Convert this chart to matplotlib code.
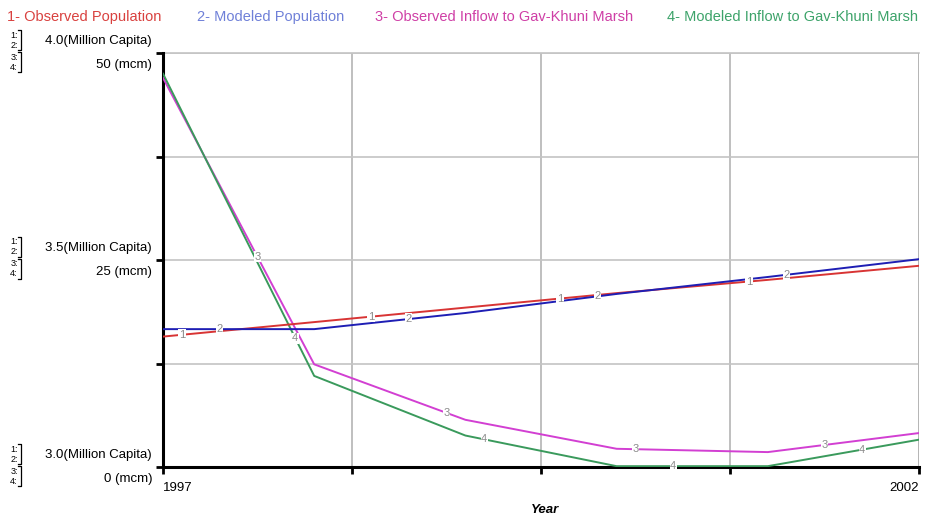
import numpy as np
import matplotlib.pyplot as plt

plt.rcParams['font.family'] = ['Liberation Sans', 'DejaVu Sans']

# Data
years = [1997, 1998, 1999, 2000, 2001, 2002]
obs_pop = [3.315, 3.350, 3.385, 3.420, 3.452, 3.486]      # million capita
mod_pop = [3.333, 3.333, 3.372, 3.418, 3.459, 3.502]      # million capita
obs_inflow = [47.0, 12.4, 5.7, 2.2, 1.8, 4.1]             # mcm
mod_inflow = [47.5, 11.0, 3.8, 0.1, 0.1, 3.3]             # mcm

names = ['1- Observed Population', '2- Modeled Population',
         '3- Observed Inflow to Gav-Khuni Marsh', '4- Modeled Inflow to Gav-Khuni Marsh']
title_colors = ['#d9413f', '#6f80d8', '#cf3fa6', '#3da36a']
line_colors = ['#d83434', '#1e1eb4', '#d23fd2', '#3a9a5c']

pop_ticks = [3.0, 3.5, 4.0]
inflow_ticks = [0, 25, 50]

W, H = 930, 518
fig = plt.figure(figsize=(W / 100, H / 100), dpi=100)
L, R, T, B = 163, 919, 53, 467
ax = fig.add_axes([L / W, 1 - B / H, (R - L) / W, (B - T) / H])
ax2 = ax.twinx()


def px(x, y):
    return x / W, 1 - y / H


# grid
xgrid = np.linspace(1997, 2002, 5)
ygrid = np.linspace(0, 50, 5)
for xg in xgrid[1:]:
    ax.axvline(xg, color='#b4b4b4', lw=1.2, zorder=0)
for yg in ygrid[1:]:
    ax.axhline(yg, color='#c4c4c4', lw=1.2, zorder=0)

ax.set_xlim(1997, 2002)
ax.set_ylim(0, 50)
ax2.set_ylim(3.0, 4.0)

series = [(ax2, obs_pop), (ax2, mod_pop), (ax, obs_inflow), (ax, mod_inflow)]
for i, (a, vals) in enumerate(series):
    a.plot(years, vals, color=line_colors[i], lw=1.4, zorder=3)
    # number labels along each line
    for n in range(4):
        t = 1997.125 + 0.25 * i + 1.25 * n
        v = np.interp(t, years, vals)
        a.text(t, v, str(i + 1), color='#8a8a8a', fontsize=8, ha='center', va='center',
               zorder=4, bbox=dict(boxstyle='square,pad=0.05', fc='white', ec='none'))

for s in ['top', 'right']:
    ax.spines[s].set_visible(False)
    ax2.spines[s].set_visible(False)
ax2.spines['left'].set_visible(False)
ax2.spines['bottom'].set_visible(False)
ax.spines['left'].set_linewidth(2.2)
ax.spines['bottom'].set_linewidth(2.2)
ax.set_xticks(xgrid)
ax.set_yticks(ygrid)
ax.tick_params(axis='both', direction='out', length=5, width=2, labelleft=False,
               labelbottom=False, color='black')
ax2.set_yticks([])
# top border and right border
ax.plot([1997, 2002], [50, 50], color='#c4c4c4', lw=1.2, zorder=0, clip_on=False)
ax.axvline(2002, color='#b4b4b4', lw=1.2, zorder=0)

# series titles
title_x = [7, 197, 375, 667]
for i in range(4):
    fig.text(*px(title_x[i], 17), names[i], color=title_colors[i], fontsize=10.5,
             ha='left', va='center')

# stacked axis labels
for pv, iv in zip(pop_ticks, inflow_ticks):
    yv = B - (iv / 50) * (B - T)
    fig.text(*px(152, yv - 12), f'{pv:.1f}(Million Capita)', fontsize=9.5,
             ha='right', va='center')
    fig.text(*px(152, yv + 12), f'{iv} (mcm)', fontsize=9.5, ha='right', va='center')
    for k, dy in enumerate([-18, -8, 4, 14]):
        fig.text(*px(14, yv + dy), f'{k + 1}:', fontsize=6.5, ha='center', va='center')
    for y0, y1 in [(yv - 23, yv - 3), (yv - 1, yv + 19)]:
        x0, x1 = 18 / W, 21 / W
        fig.add_artist(plt.Line2D([x0, x1, x1, x0], [1 - y0 / H, 1 - y0 / H, 1 - y1 / H, 1 - y1 / H],
                                  color='black', lw=0.9))

fig.text(*px(163, 488), '1997', fontsize=9.5, ha='left', va='center')
fig.text(*px(919, 488), '2002', fontsize=9.5, ha='right', va='center')
fig.text(*px(545, 510), 'Year', fontsize=9.5, ha='center', va='center',
         fontweight='bold', fontstyle='italic')

fig.savefig('out.png', dpi=100)
